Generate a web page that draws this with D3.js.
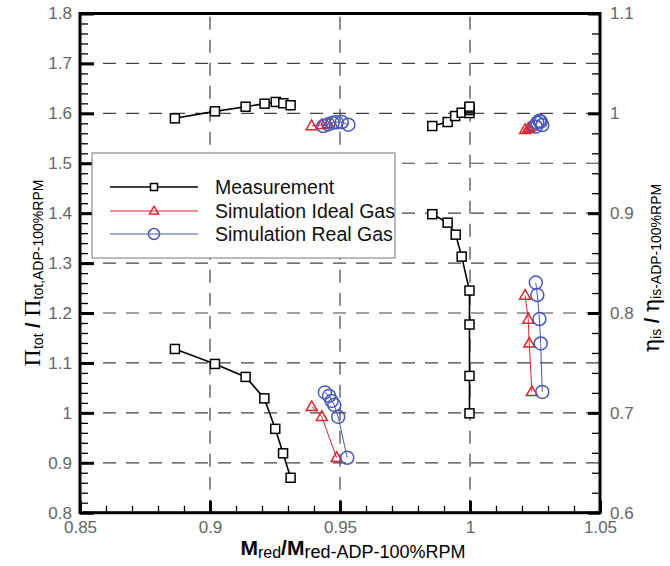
<!DOCTYPE html>
<html><head><meta charset="utf-8">
<script src="https://cdn.jsdelivr.net/npm/d3@7"></script>
<style>
body{margin:0;background:#fff;}
svg{display:block;}
</style></head>
<body>
<svg id="c" width="670" height="566"></svg>
<script>
// ---- data (x = M_red ratio, y = value) ----
const measPrLow   = [[0.8865,1.128],[0.9019,1.098],[0.9137,1.072],[0.9209,1.029],[0.9251,0.968],[0.9281,0.919],[0.9310,0.870]];
const measPrHigh  = [[0.9855,1.398],[0.9914,1.381],[0.9945,1.357],[0.9968,1.313],[0.9998,1.245],[0.9998,1.177],[0.9998,1.074],[0.9998,0.999]];
const measEtaLow  = [[0.8865,0.995],[0.9019,1.002],[0.9137,1.0066],[0.9210,1.0097],[0.9253,1.0114],[0.9282,1.0101],[0.9310,1.0081]];
const measEtaHigh = [[0.9855,0.9873],[0.9914,0.9913],[0.9943,0.9973],[0.9968,1.0006],[0.9998,1.0003],[0.9998,1.0033],[0.9998,1.0050],[0.9998,1.0067]];
const idealPrLow  = [[0.9391,1.012],[0.9430,0.992],[0.9487,0.910]];
const idealEtaLow = [[0.9391,0.9873],[0.9430,0.9885],[0.9455,0.9895]];
const realPrLow   = [[0.9442,1.041],[0.9458,1.034],[0.9468,1.024],[0.9478,1.016],[0.9493,0.992],[0.9528,0.910]];
const realEtaLow  = [[0.9436,0.9873],[0.9455,0.9890],[0.9472,0.9906],[0.9487,0.9910],[0.9507,0.9913],[0.9532,0.9886]];
const idealPrHigh = [[1.0212,1.235],[1.0224,1.187],[1.0228,1.139],[1.0238,1.042]];
const idealEtaHigh= [[1.0212,0.9835],[1.0224,0.9845],[1.0228,0.9855],[1.0238,0.9870]];
const realPrHigh  = [[1.0253,1.261],[1.0259,1.236],[1.0267,1.188],[1.0272,1.139],[1.0278,1.042]];
const realEtaHigh = [[1.0253,0.9866],[1.0259,0.9906],[1.0267,0.9926],[1.0272,0.9916],[1.0278,0.9883]];

const xTicks = [0.85,0.9,0.95,1.0,1.05];
const yLeftTicks = [0.8,0.9,1.0,1.1,1.2,1.3,1.4,1.5,1.6,1.7,1.8];
const yRightTicks = [0.6,0.7,0.8,0.9,1.0,1.1];
const legendLabels = ["Measurement","Simulation Ideal Gas","Simulation Real Gas"];

// ---- layout ----
const X0=80, X1=600, YT=13.5, YB=512.7;
const x = d3.scaleLinear([0.85,1.05],[X0,X1]);
const yL = d3.scaleLinear([0.8,1.8],[YB,YT]);
const yR = d3.scaleLinear([0.6,1.1],[YB,YT]);
const fmt = d => String(+(+d).toFixed(2));
const svg = d3.select("#c");
const FONT = "'Liberation Sans', Arial, sans-serif";

// grid
const grid = svg.append("g").attr("stroke","#444").attr("stroke-width",1.2).attr("stroke-dasharray","13,10");
[0.9,0.95,1.0].forEach(v=>grid.append("line").attr("x1",x(v)).attr("x2",x(v)).attr("y1",YB).attr("y2",YT));
[0.9,1.0,1.1,1.2,1.3,1.4,1.5,1.6,1.7].forEach(v=>grid.append("line").attr("x1",X0).attr("x2",X1).attr("y1",yL(v)).attr("y2",yL(v)));

// minor tick values
const minorX = d3.range(0.85,1.0501,0.01).map(v=>+v.toFixed(3)).filter(v=>!xTicks.some(t=>Math.abs(t-v)<1e-6));
const minorYL = d3.range(0.8,1.8001,0.02).map(v=>+v.toFixed(3)).filter(v=>!yLeftTicks.some(t=>Math.abs(t-v)<1e-6));
const minorYR = d3.range(0.6,1.1001,0.02).map(v=>+v.toFixed(3)).filter(v=>!yRightTicks.some(t=>Math.abs(t-v)<1e-6));

function styleAxis(g, w){
  g.select(".domain").remove();
  g.selectAll(".tick line").attr("stroke","#000").attr("stroke-width",w);
  g.selectAll("text").attr("fill","#666").attr("font-family",FONT).attr("font-size",17);
}
// left
svg.append("g").attr("transform",`translate(${X0},0)`).call(d3.axisLeft(yL).tickValues(minorYL).tickSize(-8).tickFormat("")).call(g=>styleAxis(g,1.3));
svg.append("g").attr("transform",`translate(${X0},0)`).call(d3.axisLeft(yL).tickValues(yLeftTicks).tickSize(-14).tickPadding(8).tickFormat(fmt)).call(g=>styleAxis(g,3));
// bottom
svg.append("g").attr("transform",`translate(0,${YB})`).call(d3.axisBottom(x).tickValues(minorX).tickSize(-7).tickFormat("")).call(g=>styleAxis(g,1.3));
svg.append("g").attr("transform",`translate(0,${YB})`).call(d3.axisBottom(x).tickValues(xTicks).tickSize(-12).tickPadding(8).tickFormat(fmt)).call(g=>styleAxis(g,3));
// right
svg.append("g").attr("transform",`translate(${X1},0)`).call(d3.axisRight(yR).tickValues(minorYR).tickSize(-8).tickFormat("")).call(g=>styleAxis(g,1.3));
svg.append("g").attr("transform",`translate(${X1},0)`).call(d3.axisRight(yR).tickValues(yRightTicks).tickSize(-12).tickPadding(10).tickFormat(fmt)).call(g=>styleAxis(g,3));
// frame
svg.append("rect").attr("x",X0).attr("y",YT).attr("width",X1-X0).attr("height",YB-YT)
  .attr("fill","none").attr("stroke","#000").attr("stroke-width",3);

// series drawing
const RED="#e0262c", BLUE="#4a59b8";
function series(data, ys, kind){
  const color = kind==="meas"?"#000":(kind==="ideal"?RED:BLUE);
  const line = d3.line().x(d=>x(d[0])).y(d=>ys(d[1]));
  svg.append("path").attr("d",line(data)).attr("fill","none").attr("stroke",color).attr("stroke-width",kind==="meas"?1.6:1);
  const g = svg.append("g");
  data.forEach(d=>drawMarker(g,x(d[0]),ys(d[1]),kind,false));
}
function drawMarker(g,cx,cy,kind,small){
  if(kind==="meas"){
    const s = small?7:9;
    g.append("rect").attr("x",cx-s/2).attr("y",cy-s/2).attr("width",s).attr("height",s)
      .attr("fill","#fff").attr("stroke","#000").attr("stroke-width",1.5);
  } else if(kind==="ideal"){
    const s = small?9:11;
    const h = s*0.87;
    g.append("path").attr("d",`M${cx},${cy-h*0.62}L${cx+s/2},${cy+h*0.38}L${cx-s/2},${cy+h*0.38}Z`)
      .attr("fill","none").attr("stroke",RED).attr("stroke-width",1.5);
  } else {
    g.append("circle").attr("cx",cx).attr("cy",cy).attr("r",small?5.5:6.5)
      .attr("fill","none").attr("stroke",BLUE).attr("stroke-width",1.5);
  }
}
series(measPrLow,yL,"meas");
series(measPrHigh,yL,"meas");
series(measEtaLow,yR,"meas");
series(measEtaHigh,yR,"meas");
series(idealPrLow,yL,"ideal");
series(idealPrHigh,yL,"ideal");
series(idealEtaLow,yR,"ideal");
series(idealEtaHigh,yR,"ideal");
series(realPrLow,yL,"real");
series(realPrHigh,yL,"real");
series(realEtaLow,yR,"real");
series(realEtaHigh,yR,"real");

// legend
const lg = svg.append("g");
lg.append("rect").attr("x",92).attr("y",153).attr("width",303).attr("height",105)
  .attr("fill","#fff").attr("stroke","#777").attr("stroke-width",1);
const kinds=["meas","ideal","real"], cols=["#000",RED,BLUE], rowsY=[187,211,234];
legendLabels.forEach((t,i)=>{
  lg.append("line").attr("x1",110).attr("x2",198).attr("y1",rowsY[i]).attr("y2",rowsY[i])
    .attr("stroke",cols[i]).attr("stroke-width",i===0?1.6:1);
  drawMarker(lg,154,rowsY[i],kinds[i],true);
  lg.append("text").attr("x",215).attr("y",rowsY[i]).attr("dy","0.36em")
    .attr("font-family",FONT).attr("font-size",19.5).attr("fill","#111").text(t);
});

// axis titles
const bt = svg.append("text").attr("x",353).attr("y",555).attr("text-anchor","middle")
  .attr("font-family",FONT).attr("fill","#000");
bt.append("tspan").attr("font-size",21).attr("font-weight","bold").text("M");
bt.append("tspan").attr("font-size",16).attr("dy",3).text("red");
bt.append("tspan").attr("font-size",21).attr("font-weight","bold").attr("dy",-3).text("/M");
bt.append("tspan").attr("font-size",18).attr("dy",3).text("red-ADP-100%RPM");

const lt = svg.append("text").attr("transform","translate(40,273) rotate(-90)").attr("text-anchor","middle")
  .attr("font-family",FONT).attr("fill","#000");
lt.append("tspan").attr("font-family","'Liberation Serif', serif").attr("font-size",24).text("\u03A0");
lt.append("tspan").attr("font-size",14).attr("dy",3).text("tot");
lt.append("tspan").attr("font-size",20).attr("font-weight","bold").attr("dy",-3).text(" / ");
lt.append("tspan").attr("font-family","'Liberation Serif', serif").attr("font-size",24).text("\u03A0");
lt.append("tspan").attr("font-size",14).attr("dy",3).text("tot,ADP-100%RPM");

const rt = svg.append("text").attr("transform","translate(659,268) rotate(-90)").attr("text-anchor","middle")
  .attr("font-family",FONT).attr("fill","#000");
rt.append("tspan").attr("font-family","'DejaVu Serif', serif").attr("font-size",22).text("\u03B7");
rt.append("tspan").attr("font-size",14).attr("dy",2).text("is");
rt.append("tspan").attr("font-size",20).attr("font-weight","bold").attr("dy",-2).text(" / ");
rt.append("tspan").attr("font-family","'DejaVu Serif', serif").attr("font-size",22).text("\u03B7");
rt.append("tspan").attr("font-size",14).attr("dy",2).text("is-ADP-100%RPM");
</script>
</body></html>
